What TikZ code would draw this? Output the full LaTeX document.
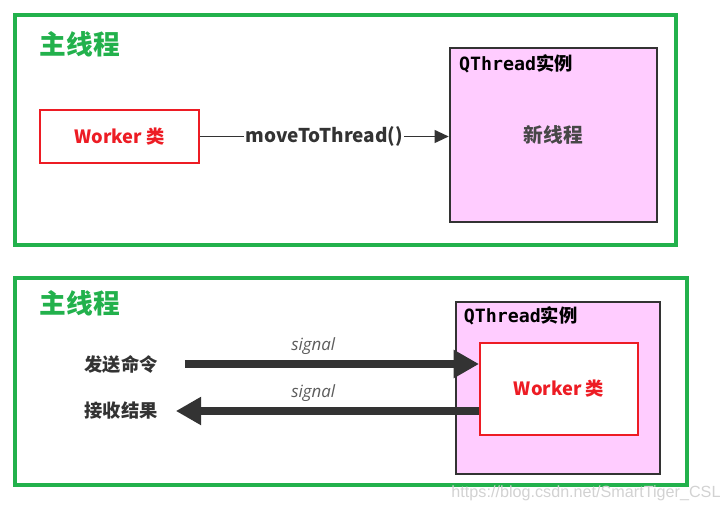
\documentclass[tikz,border=0pt]{standalone}
\usepackage{fontspec}
\setmainfont{Noto Sans CJK SC}
\newfontfamily\monofnt{DejaVu Sans Mono}
\newfontfamily\signalfnt{Open Sans}
\newfontfamily\markfnt{Liberation Sans}
\usetikzlibrary{arrows.meta, positioning}
\definecolor{framegreen}{RGB}{34,177,76}
\definecolor{boxred}{RGB}{237,28,36}
\definecolor{threadpink}{RGB}{255,204,255}
\definecolor{darkline}{RGB}{51,51,51}

\begin{document}
\begin{tikzpicture}[x=0.025cm, y=-0.025cm,
    frame/.style={draw=framegreen, line width=2.8pt},
    title/.style={text=framegreen, font=\bfseries\fontsize{19}{22}\selectfont},
    worker/.style={rectangle, draw=boxred, line width=1.4pt, fill=white, text=boxred, font=\bfseries\fontsize{13}{15}\selectfont},
    thread/.style={rectangle, draw=darkline, line width=1.7pt, fill=threadpink},
    threadlabel/.style={inner sep=0pt, font=\bfseries\fontsize{13}{15}\selectfont},
    side/.style={inner sep=0pt, text=darkline, font=\bfseries\fontsize{13}{15}\selectfont},
    signal/.style={inner sep=0pt, text=darkline!80, font=\signalfnt\itshape\fontsize{12}{14}\selectfont},
    thinarrow/.style={darkline, line width=1.4pt, -{Triangle[length=10pt, width=9pt]}},
    bigarrow/.style={darkline, line width=5.7pt, -{Triangle[length=18pt, width=19pt]}}]

    \useasboundingbox (0,0) rectangle (727,511);

    % upper part: moving the worker
    \draw [frame] (15,15) rectangle (676,245);
    \node [title] (main1) at (80,44) {主线程};
    \node [worker, minimum width=3.975cm, minimum height=1.325cm] (worker1) at (119.5,136.5) {Worker 类};
    \node [thread, minimum width=5.175cm, minimum height=4.35cm] (qt1) at (553.5,135) {};
    \node [threadlabel, below right=0.18cm and 0.25cm of qt1.north west] (qt1label) {{\monofnt QThread}实例};
    \node [side, text=darkline!90, font=\bfseries\fontsize{14}{16}\selectfont] (newthread) at (qt1.center) {新线程};
    \draw [thinarrow] (worker1.east) -- node [fill=white, inner sep=1pt, text=darkline, font=\bfseries\fontsize{13.5}{15}\selectfont] {moveToThread()} (worker1.east -| qt1.west);

    % lower part: talking through signals
    \draw [frame] (15,278) rectangle (687,485);
    \node [title] (main2) at (80,303) {主线程};
    \node [thread, minimum width=5.1cm, minimum height=4.3cm] (qt2) at (558,388) {};
    \node [threadlabel, below right=0.15cm and 0.22cm of qt2.north west] (qt2label) {{\monofnt QThread}实例};
    \node [worker, minimum width=3.95cm, minimum height=2.3cm] (worker2) at (559,389) {Worker 类};
    \node [side] (send) at (121,364) {发送命令};
    \node [side] (recv) at (121,411) {接收结果};
    \draw [bigarrow, shorten <=0.675cm] (send.east) -- node [signal, pos=0.484, above=0.13cm] {signal} (send.east -| worker2.west);
    \draw [bigarrow, shorten >=0.45cm] (recv.east -| worker2.west) -- node [signal, pos=0.516, above=0.13cm] {signal} (recv.east);

    \node [text=gray!35, font=\markfnt\fontsize{11.5}{13}\selectfont] (mark) at (586,493) {https://blog.csdn.net/SmartTiger\_CSL};
\end{tikzpicture}
\end{document}
